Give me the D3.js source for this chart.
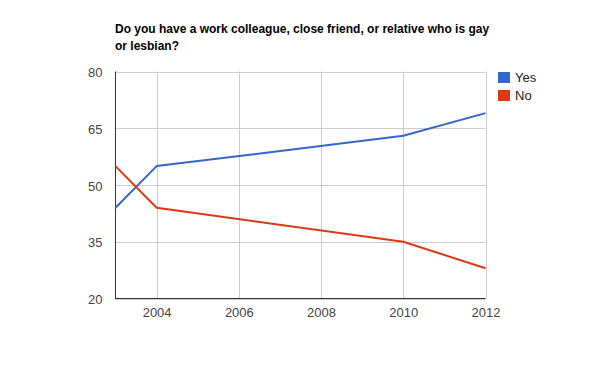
<!DOCTYPE html>
<html><head><meta charset="utf-8">
<script src="https://cdn.jsdelivr.net/npm/d3@7"></script>
<style>body{margin:0;background:#fff;}svg{display:block;font-family:Arial,"Liberation Sans",sans-serif;}</style>
</head><body>
<svg id="chart" width="600" height="371"></svg>
<script>
const years = [2003, 2004, 2010, 2012];
const yesValues = [44, 55, 63, 69];
const noValues = [55, 44, 35, 28];
const seriesNames = ["Yes", "No"];
const seriesColors = ["#3366cc", "#dc3912"];
const xTicks = [2004, 2006, 2008, 2010, 2012];
const yTicks = [20, 35, 50, 65, 80];
const titleLines = ["Do you have a work colleague, close friend, or relative who is gay", "or lesbian?"];

(function () {
const svg = d3.select("#chart");
const pL = 115.5, pR = 485.5, pT = 71.5, pB = 298.5;
const x = d3.scaleLinear().domain([2003, 2012]).range([pL, pR]);
const y = d3.scaleLinear().domain([20, 80]).range([pB, pT]);

svg.append("rect").attr("width", 600).attr("height", 371).attr("fill", "#fff");

// gridlines
svg.append("g").selectAll("line").data(yTicks).join("line")
  .attr("x1", pL).attr("x2", pR)
  .attr("y1", d => Math.round(y(d)) + 0.5).attr("y2", d => Math.round(y(d)) + 0.5)
  .attr("stroke", "#cccccc").attr("stroke-width", 1);
svg.append("g").selectAll("line").data(xTicks).join("line")
  .attr("x1", d => Math.round(x(d)) + 0.5).attr("x2", d => Math.round(x(d)) + 0.5)
  .attr("y1", pT).attr("y2", pB)
  .attr("stroke", "#cccccc").attr("stroke-width", 1);

// axes labels
const yAxis = d3.axisLeft(y).tickValues(yTicks).tickSize(0).tickPadding(13);
const gy = svg.append("g").attr("transform", `translate(${pL},0)`).call(yAxis);
gy.select(".domain").remove();
gy.selectAll("text").attr("font-size", 13).attr("fill", "#444").attr("dy", "0.4em")
  .attr("font-family", "Arial, 'Liberation Sans', sans-serif");

const xAxis = d3.axisBottom(x).tickValues(xTicks).tickSize(0).tickPadding(9).tickFormat(d3.format("d"));
const gx = svg.append("g").attr("transform", `translate(0,${pB})`).call(xAxis);
gx.select(".domain").remove();
gx.selectAll("text").attr("font-size", 13).attr("fill", "#444").attr("font-family", "Arial, 'Liberation Sans', sans-serif");

// baseline axes
svg.append("line").attr("x1", pL).attr("x2", pL).attr("y1", pT).attr("y2", pB + 0.5).attr("stroke", "#333");
svg.append("line").attr("x1", pL).attr("x2", pR).attr("y1", pB).attr("y2", pB).attr("stroke", "#333");

// lines
const line = d3.line().x((d, i) => x(years[i])).y(d => y(d));
[yesValues, noValues].forEach((vals, i) => {
  svg.append("path").datum(vals).attr("d", line)
    .attr("fill", "none").attr("stroke", seriesColors[i]).attr("stroke-width", 2)
    .attr("stroke-linejoin", "round");
});

// title
svg.append("g").selectAll("text").data(titleLines).join("text")
  .attr("x", 115).attr("y", (d, i) => 33 + i * 17)
  .attr("font-size", 12).attr("font-weight", "bold").attr("fill", "#000")
  .text(d => d);

// legend
const lg = svg.append("g").selectAll("g").data(seriesNames).join("g")
  .attr("transform", (d, i) => `translate(498,${72 + i * 18})`);
lg.append("rect").attr("width", 12).attr("height", 11).attr("fill", (d, i) => seriesColors[i]);
lg.append("text").attr("x", 17).attr("y", 10).attr("font-size", 13).attr("fill", "#222").text(d => d);
})();
</script>
</body></html>
